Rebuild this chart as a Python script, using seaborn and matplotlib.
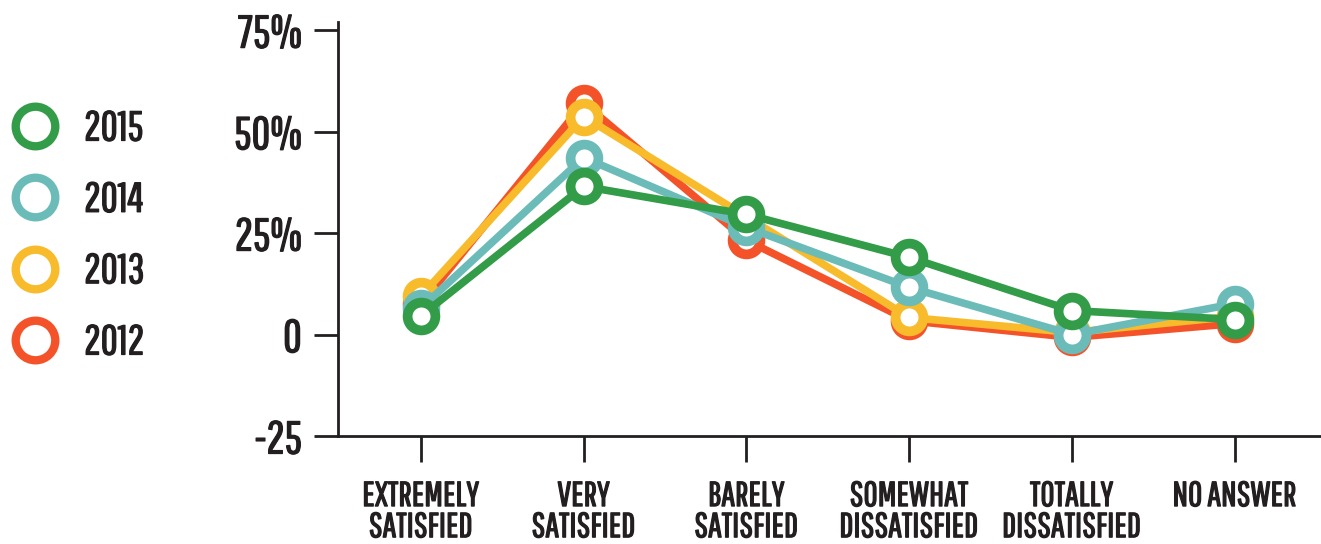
import matplotlib
matplotlib.use("Agg")
import matplotlib.pyplot as plt
import matplotlib.patheffects as pe
from matplotlib.lines import Line2D
import seaborn as sns
import pandas as pd

categories = ["EXTREMELY\nSATISFIED", "VERY\nSATISFIED", "BARELY\nSATISFIED",
              "SOMEWHAT\nDISSATISFIED", "TOTALLY\nDISSATISFIED", "NO ANSWER"]
years = ["2012", "2013", "2014", "2015"]
v2012 = [7.5, 57.0, 23.2, 3.4, -0.7, 2.7]
v2013 = [9.5, 53.7, 29.0, 4.2, 0.5, 4.5]
v2014 = [6.5, 43.6, 26.4, 11.6, 0.0, 7.6]
v2015 = [4.6, 36.5, 29.6, 19.0, 5.9, 3.7]
colors = {"2012": "#f4532a", "2013": "#f8bb2c", "2014": "#6bbcb9", "2015": "#339c48"}
ytick_vals = [-25, 0, 25, 50, 75]
ytick_labels = ["-25", "0", "25%", "50%", "75%"]

series = {"2012": v2012, "2013": v2013, "2014": v2014, "2015": v2015}
rows = []
for y in years:
    for i, v in enumerate(series[y]):
        rows.append({"year": y, "idx": i, "value": v})
df = pd.DataFrame(rows)

sns.set_style("white")
FONT = ["Pathway Gothic One", "DejaVu Sans"]
plt.rcParams["font.family"] = FONT
txt = "#231f20"
bold = [pe.withStroke(linewidth=0.9, foreground=txt)]

W, H = 1321, 544
fig = plt.figure(figsize=(W / 100, H / 100), dpi=100)
ax = fig.add_axes([338 / W, 108 / H, 1 - 338 / W, (436 - 22) / H])

for y in years:
    sub = df[df["year"] == y]
    sns.lineplot(data=sub, x="idx", y="value", ax=ax, color=colors[y],
                 linewidth=5.5, marker="o", markersize=20,
                 markerfacecolor="white", markeredgecolor=colors[y],
                 markeredgewidth=7, zorder=3, clip_on=False)

ax.set_xlim(-0.51, 5.53)
ax.set_ylim(-25, 77)
ax.set_xticks(range(len(categories)))
ax.set_xticklabels(categories, fontsize=25, color=txt, linespacing=0.93)
ax.set_yticks(ytick_vals)
ax.set_yticklabels(ytick_labels, fontsize=33, color=txt)
for t in ax.get_xticklabels() + ax.get_yticklabels():
    t.set_path_effects(bold)
ax.set_xlabel("")
ax.set_ylabel("")
for s in ["top", "right"]:
    ax.spines[s].set_visible(False)
for s in ["left", "bottom"]:
    ax.spines[s].set_color(txt)
    ax.spines[s].set_linewidth(2)
ax.tick_params(axis="y", length=17, width=2, color=txt, pad=9, left=True)
ax.tick_params(axis="x", length=19, width=2, color=txt, pad=12, bottom=True)
ax.grid(False)

handles = [Line2D([], [], linestyle="none", marker="o", markersize=28.5,
                  markerfacecolor="white", markeredgecolor=colors[y],
                  markeredgewidth=6) for y in years[::-1]]
leg = fig.legend(handles, years[::-1], loc="center left",
                 bbox_to_anchor=(9 / W, 1 - 235.5 / H), frameon=False,
                 prop={"family": FONT, "size": 30}, labelspacing=0.8,
                 handlelength=1.25, handletextpad=0.55, borderaxespad=0,
                 borderpad=0)
for t in leg.get_texts():
    t.set_color(txt)
    t.set_path_effects(bold)

fig.savefig("out.png", dpi=100)
